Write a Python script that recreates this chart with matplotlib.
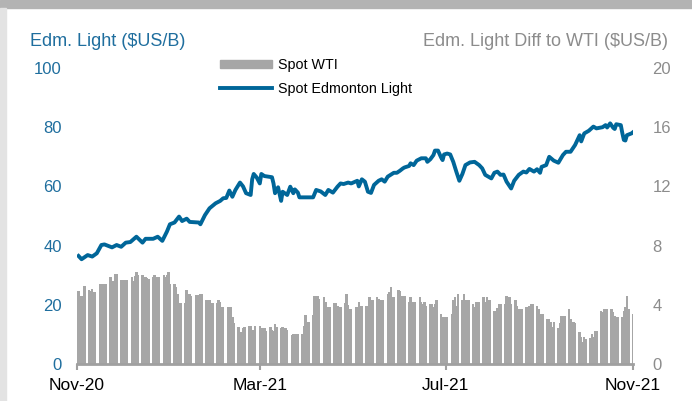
import pandas as pd
import matplotlib
matplotlib.use("Agg")
import matplotlib.pyplot as plt
import matplotlib.dates as mdates
from matplotlib.patches import Rectangle, Patch
from matplotlib.lines import Line2D

plt.rcParams['font.family'] = ['Liberation Sans', 'DejaVu Sans']

# Spot Edmonton Light ($US/B)
line_dates = [
    '2020-11-02', '2020-11-04', '2020-11-08', '2020-11-11', '2020-11-14', '2020-11-17', '2020-11-19',
    '2020-11-24', '2020-11-27', '2020-11-30', '2020-12-03', '2020-12-06', '2020-12-10', '2020-12-14',
    '2020-12-16', '2020-12-21', '2020-12-24', '2020-12-27', '2020-12-30', '2021-01-01', '2021-01-04',
    '2021-01-07', '2021-01-09', '2021-01-12', '2021-01-14', '2021-01-20', '2021-01-21', '2021-01-24',
    '2021-01-27', '2021-01-31', '2021-02-03', '2021-02-05', '2021-02-07', '2021-02-09', '2021-02-11',
    '2021-02-13', '2021-02-16', '2021-02-18', '2021-02-20', '2021-02-23', '2021-02-24', '2021-02-25',
    '2021-02-27', '2021-03-01', '2021-03-02', '2021-03-04', '2021-03-09', '2021-03-10', '2021-03-11',
    '2021-03-13', '2021-03-15', '2021-03-16', '2021-03-19', '2021-03-21', '2021-03-23', '2021-03-24',
    '2021-03-26', '2021-03-27', '2021-04-05', '2021-04-07', '2021-04-10', '2021-04-13', '2021-04-15',
    '2021-04-18', '2021-04-21', '2021-04-23', '2021-04-25', '2021-04-28', '2021-04-30', '2021-05-04',
    '2021-05-05', '2021-05-07', '2021-05-09', '2021-05-11', '2021-05-13', '2021-05-15', '2021-05-18',
    '2021-05-20', '2021-05-22', '2021-05-24', '2021-05-28', '2021-05-30', '2021-06-01', '2021-06-03',
    '2021-06-04', '2021-06-07', '2021-06-08', '2021-06-10', '2021-06-12', '2021-06-15', '2021-06-18',
    '2021-06-19', '2021-06-21', '2021-06-23', '2021-06-24', '2021-06-26', '2021-06-28', '2021-06-29',
    '2021-06-30', '2021-07-02', '2021-07-04', '2021-07-06', '2021-07-08', '2021-07-10', '2021-07-12',
    '2021-07-14', '2021-07-17', '2021-07-20', '2021-07-23', '2021-07-25', '2021-07-27', '2021-07-29',
    '2021-07-31', '2021-08-02', '2021-08-04', '2021-08-06', '2021-08-08', '2021-08-10', '2021-08-13',
    '2021-08-15', '2021-08-18', '2021-08-21', '2021-08-23', '2021-08-25', '2021-08-28', '2021-08-30',
    '2021-09-01', '2021-09-02', '2021-09-05', '2021-09-07', '2021-09-10', '2021-09-13', '2021-09-16',
    '2021-09-18', '2021-09-21', '2021-09-24', '2021-09-26', '2021-09-27', '2021-09-28', '2021-09-30',
    '2021-10-03', '2021-10-06', '2021-10-08', '2021-10-12', '2021-10-14', '2021-10-15', '2021-10-17',
    '2021-10-19', '2021-10-20', '2021-10-21', '2021-10-24', '2021-10-25', '2021-10-26', '2021-10-27',
    '2021-10-28', '2021-10-31', '2021-11-01',
]
edm_light = [
    36.5, 35.4, 36.8, 36.3, 37.4, 40.2, 40.4,
    39.4, 40.2, 39.6, 41.0, 41.2, 43.0, 41.0,
    42.3, 42.3, 43.0, 41.6, 44.7, 47.2, 47.8,
    49.8, 48.3, 49.1, 48.0, 47.8, 47.2, 50.3,
    52.6, 54.3, 55.1, 56.0, 56.1, 58.6, 56.5,
    58.8, 61.3, 60.0, 57.7, 57.1, 62.4, 64.2,
    63.0, 61.0, 64.2, 63.5, 63.1, 61.0, 57.7,
    59.7, 55.1, 58.2, 57.1, 59.9, 57.7, 59.0,
    57.9, 56.3, 56.3, 58.8, 58.3, 57.1, 58.8,
    57.9, 59.9, 61.0, 60.8, 61.3, 61.0, 61.9,
    60.0, 62.4, 61.6, 58.2, 57.8, 60.5, 61.9,
    62.4, 61.6, 63.3, 64.6, 64.6, 65.3, 66.1,
    66.4, 66.9, 67.8, 67.2, 68.7, 69.5, 69.5,
    68.3, 69.2, 70.6, 72.1, 72.1, 69.8, 68.9,
    70.8, 71.1, 70.8, 68.3, 65.0, 61.9, 64.2,
    67.2, 68.1, 68.3, 67.2, 66.1, 63.9, 63.3,
    62.7, 64.6, 65.0, 63.9, 64.0, 61.6, 59.3,
    61.9, 63.9, 65.0, 64.7, 65.9, 65.0, 65.8,
    64.6, 66.6, 67.2, 70.0, 68.7, 68.0, 70.6,
    71.7, 71.7, 74.0, 76.2, 77.3, 75.2, 77.9,
    78.8, 80.2, 79.6, 80.0, 80.7, 79.9, 81.3,
    79.8, 79.4, 81.0, 80.7, 78.0, 75.7, 75.5,
    77.3, 77.9, 78.3,
]

# Edm. Light diff to WTI ($US/B), one value per business day, Nov 2 2020 - Nov 1 2021
wti_diff = [
    4.9, 4.6, 4.6, 4.6, 5.3,      5.0, 4.9, 5.1, 4.85, 4.85,
    5.4, 5.4, 5.4, 5.4, 5.4,      5.9, 5.2, 5.6, 6.1, 6.1,
    5.7, 5.7, 5.65, 5.7, 5.7,     5.9, 5.6, 5.95, 6.2, 6.0,
    6.0, 5.9, 5.9, 5.8, 5.75,     5.85, 6.0, 5.9, 5.9, 5.9,
    6.0, 5.85, 6.0, 6.25, 5.4,    5.4, 5.2, 4.7, 4.1, 4.1,
    4.1, 5.0, 4.7, 4.7, 4.6,      4.65, 4.65, 4.65, 4.75, 4.75,
    4.3, 4.3, 4.3, 4.1, 4.1,      4.1, 4.3, 4.2, 3.85, 3.85,
    3.85, 3.85, 3.85, 3.2, 2.8,   2.5, 1.95, 2.15, 2.45, 2.5,
    2.6, 2.6, 2.25, 2.3, 2.6,     2.6, 2.4, 2.2, 2.4, 2.25,
    2.5, 2.3, 2.2, 2.7, 2.5,      2.4, 2.5, 2.3, 2.4, 2.3,
    1.95, 2.05, 2.05, 2.05, 2.05, 2.05, 2.6, 3.3, 2.85, 2.85,
    3.3, 4.6, 4.4, 4.6, 4.4,      4.5, 4.2, 3.85, 3.85, 3.85,
    4.1, 4.1, 3.95, 3.85, 3.85,   4.1, 4.75, 4.0, 3.75, 3.75,
    3.85, 3.85, 4.2, 3.95, 3.95,  3.95, 3.85, 4.5, 4.3, 4.3,
    4.5, 4.4, 4.3, 4.3, 4.3,      4.75, 4.85, 5.2, 4.5, 4.5,
    5.0, 4.9, 4.6, 4.6, 4.6,      4.2, 4.5, 4.2, 4.2, 4.2,
    4.5, 4.2, 4.05, 4.2, 3.95,    4.05, 4.05, 3.85, 4.05, 4.3,
    3.4, 3.2, 3.15, 3.15, 3.15,   3.4, 4.3, 4.5, 3.95, 4.75,
    4.3, 4.75, 4.3, 4.3, 4.3,     4.05, 3.85, 4.2, 4.2, 4.2,
    4.5, 4.2, 4.5, 4.3, 4.3,      3.6, 3.6, 3.8, 4.05, 4.05,
    4.05, 4.6, 4.2, 4.5, 4.05,    4.35, 3.95, 3.7, 3.7, 3.7,
    3.85, 3.7, 3.95, 4.05, 4.05,  3.95, 3.7, 3.4, 3.4, 3.4,
    3.05, 3.05, 2.85, 2.5, 2.85,  2.4, 2.75, 3.25, 3.25, 3.25,
    3.7, 3.05, 2.85, 2.85, 2.75,  2.15, 1.8, 1.5, 1.8, 1.7,
    1.75, 2.05, 1.8, 2.2, 2.2,    3.6, 3.5, 3.7, 3.7, 3.7,
    3.7, 3.5, 3.25, 3.15, 3.15,   3.15, 3.6, 3.85, 4.6, 3.7,
    3.4,
]
bar_dates = pd.bdate_range('2020-11-02', '2021-11-01')

month_ticks = ['2020-11-01', '2021-03-01', '2021-07-01', '2021-11-01']
left_ticks = [0, 20, 40, 60, 80, 100]
right_ticks = [0, 4, 8, 12, 16, 20]

blue = '#006699'
blue_txt = '#1f6e9e'
grey_txt = '#8c8c8c'

fig = plt.figure(figsize=(6.92, 4.01), dpi=100)
# grey frame bits of the original slide
fig.patches.append(Rectangle((0, 1 - 8 / 401), 1, 8 / 401, transform=fig.transFigure,
                             color='#b3b3b3', zorder=0))
fig.patches.append(Rectangle((0, 0), 6 / 692, 1 - 8 / 401, transform=fig.transFigure,
                             color='#e3e3e3', zorder=0))

ax = fig.add_axes([77 / 692, 1 - 364 / 401, 556 / 692, 296 / 401])
ax2 = ax.twinx()

ax2.bar(bar_dates, wti_diff, width=1.6, color='#a6a6a6', linewidth=0)
ax.plot(pd.to_datetime(line_dates), edm_light, color=blue, lw=2.8, solid_joinstyle='round')
ax.set_zorder(ax2.get_zorder() + 1)
ax.patch.set_visible(False)

ax.set_ylim(0, 100)
ax2.set_ylim(0, 20)
ax.set_xlim(pd.Timestamp('2020-11-01'), pd.Timestamp('2021-11-01'))
ax.set_xticks(pd.to_datetime(month_ticks))
ax.xaxis.set_major_formatter(mdates.DateFormatter('%b-%y'))
ax.set_yticks(left_ticks)
ax2.set_yticks(right_ticks)

for a in (ax, ax2):
    for s in ['top', 'left', 'right']:
        a.spines[s].set_visible(False)
ax2.spines['bottom'].set_visible(False)
ax.spines['bottom'].set_color('#a0a0a0')
ax.spines['bottom'].set_linewidth(2)

ax.tick_params(axis='y', length=0, labelcolor=blue_txt, labelsize=12, pad=11)
ax2.tick_params(axis='y', length=0, labelcolor=grey_txt, labelsize=12, pad=14)
ax.tick_params(axis='x', length=4, width=1.5, color='#a0a0a0', labelsize=12.5, pad=6)

fig.text(30 / 692, 1 - 42 / 401, 'Edm. Light ($US/B)', color=blue_txt, fontsize=13, va='center')
fig.text(668 / 692, 1 - 42 / 401, 'Edm. Light Diff to WTI ($US/B)', color=grey_txt,
         fontsize=13, va='center', ha='right')

handles = [Patch(color='#a6a6a6'), Line2D([], [], color=blue, lw=2.8)]
fig.legend(handles, ['Spot WTI', 'Spot Edmonton Light'], loc='upper left',
           bbox_to_anchor=(220 / 692, 1 - 58 / 401), frameon=False, fontsize=10.3,
           handlelength=3.6, handleheight=0.55, handletextpad=0.45, labelspacing=0.7,
           borderpad=0, borderaxespad=0)

fig.savefig('out.png', dpi=100)
